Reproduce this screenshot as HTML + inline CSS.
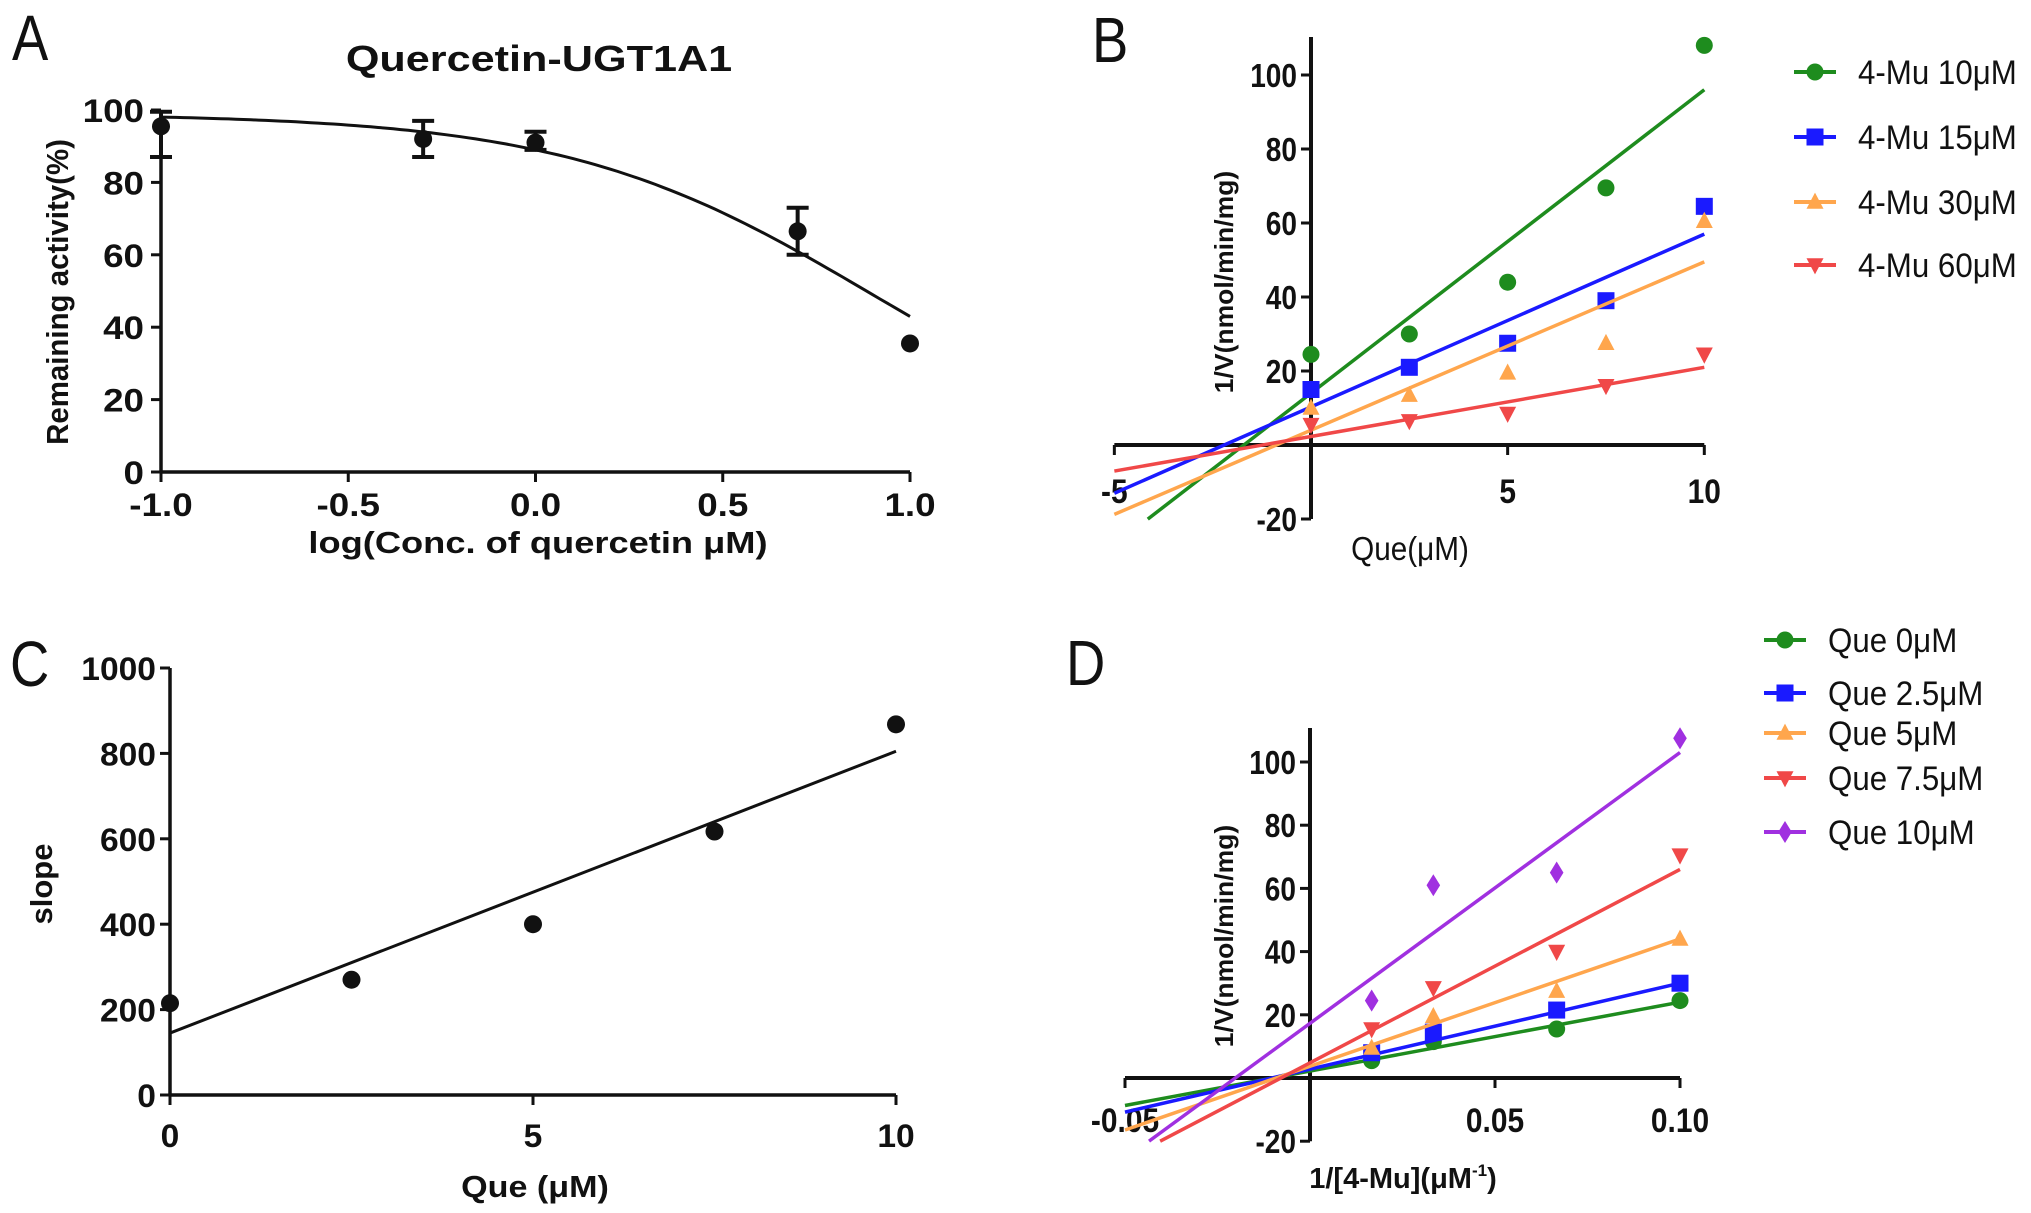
<!DOCTYPE html>
<html><head><meta charset="utf-8"><style>
html,body{margin:0;padding:0;background:#fff}
svg{display:block}
text{font-family:"Liberation Sans",Arial,sans-serif;fill:#111}
</style></head><body>
<svg id="fig" width="2031" height="1213" viewBox="0 0 2031 1213" xmlns="http://www.w3.org/2000/svg"></svg>
<script>
// ---- Panel A data ----
const aX = [-1.0, -0.3, 0.0, 0.7, 1.0];
const aY = [95.5, 92, 91, 66.5, 35.5];
const aErrLo = [87, 87, 89, 60, 35.5];
const aErrHi = [99.5, 97, 94, 73, 35.5];
const aFitTop = 99, aFitHill = 1.064, aFitLogIC50 = 0.892;
const aXTicks = [-1.0, -0.5, 0.0, 0.5, 1.0];
const aXTickLabels = ["-1.0", "-0.5", "0.0", "0.5", "1.0"];
const aYTicks = [0, 20, 40, 60, 80, 100];
// ---- Panel B data ----
const bX = [0, 2.5, 5, 7.5, 10];
const bNames = ["4-Mu 10μM", "4-Mu 15μM", "4-Mu 30μM", "4-Mu 60μM"];
const bS10 = [24.5, 30, 44, 69.5, 108];
const bS15 = [15, 21, 27.5, 39, 64.5];
const bS30 = [10, 13.5, 19.5, 27.5, 60.5];
const bS60 = [5.5, 6.5, 8.5, 16, 24.5];
const bSlopes = [8.2, 4.67, 4.55, 1.87];
const bIntercepts = [14, 10.3, 4, 2.3];
const bLineStart = [-4.15, -5, -5, -5];
const bYTicks = [-20, 20, 40, 60, 80, 100];
const bXTicks = [-5, 5, 10];
// ---- Panel C data ----
const cX = [0, 2.5, 5, 7.5, 10];
const cY = [215, 270, 400, 617, 868];
const cSlope = 66, cIntercept = 145;
const cYTicks = [0, 200, 400, 600, 800, 1000];
const cXTicks = [0, 5, 10];
// ---- Panel D data ----
const dX = [1/60, 1/30, 1/15, 0.1];
const dNames = ["Que 0μM", "Que 2.5μM", "Que 5μM", "Que 7.5μM", "Que 10μM"];
const dS0 = [5.5, 11.5, 15.5, 24.5];
const dS25 = [8, 14.5, 21.5, 30];
const dS5 = [9.5, 19.5, 27.5, 44];
const dS75 = [15.5, 28.5, 40, 70.5];
const dS10 = [24.5, 61, 65, 107.5];
const dSlopes = [218, 272, 403, 612, 857];
const dIntercepts = [2.2, 2.8, 3.7, 4.8, 17.3];
const dLineStart = [-0.05, -0.05, -0.05, -0.0405, -0.0435];
const dYTicks = [-20, 20, 40, 60, 80, 100];
const dXTicks = [-0.05, 0.05, 0.10];
const dXTickLabels = ["-0.05", "0.05", "0.10"];

const NS = "http://www.w3.org/2000/svg";
const svg = document.getElementById('fig');
function el(tag, attrs, parent) {
  const e = document.createElementNS(NS, tag);
  for (const k in attrs) e.setAttribute(k, attrs[k]);
  (parent || svg).appendChild(e);
  return e;
}
function txt(x, y, s, size, anchor, weight, sx, rot, parent) {
  const e = el('text', {'font-size': size, 'text-anchor': anchor, 'font-weight': weight,
    transform: 'translate(' + x + ',' + y + ')' + (rot ? ' rotate(' + rot + ')' : '') + ' scale(' + sx + ',1)'}, parent);
  e.textContent = s;
  return e;
}
const GREEN = '#1e8c1e', BLUE = '#1a1aff', ORANGE = '#ffa64d', RED = '#f04848', PURPLE = '#a030e0';
function marker(shape, cx, cy, r, color, parent) {
  let m;
  if (shape === 'circle') m = el('circle', {cx: cx, cy: cy, r: r, fill: color}, parent);
  else if (shape === 'square') m = el('rect', {x: cx - r, y: cy - r, width: 2 * r, height: 2 * r, fill: color}, parent);
  else if (shape === 'up') m = el('polygon', {points: (cx) + ',' + (cy - r * 1.1) + ' ' + (cx - r) + ',' + (cy + r * 0.8) + ' ' + (cx + r) + ',' + (cy + r * 0.8), fill: color}, parent);
  else if (shape === 'down') m = el('polygon', {points: (cx) + ',' + (cy + r * 1.1) + ' ' + (cx - r) + ',' + (cy - r * 0.8) + ' ' + (cx + r) + ',' + (cy - r * 0.8), fill: color}, parent);
  else m = el('polygon', {points: cx + ',' + (cy - r * 1.3) + ' ' + (cx + r * 0.8) + ',' + cy + ' ' + cx + ',' + (cy + r * 1.3) + ' ' + (cx - r * 0.8) + ',' + cy, fill: color}, parent);
  return m;
}

// ================= Panel A =================
(function () {
  const g = el('g', {});
  
  
  const X = v => 161 + (v + 1) / 2 * (910 - 161);
  const Y = v => 472 - v / 100 * (472 - 110);
  const lbl = txt(12, 60, 'A', 64, 'start', 'normal', 0.85, 0, g);
  
  
  const t = txt(539, 71, 'Quercetin-UGT1A1', 36, 'middle', 'bold', 1.2, 0, g);
  
  
  el('line', {x1: X(-1), y1: Y(0), x2: X(1), y2: Y(0), stroke: '#111', 'stroke-width': 3.5}, g);
  el('line', {x1: X(-1), y1: Y(0), x2: X(-1), y2: Y(100), stroke: '#111', 'stroke-width': 3.5}, g);
  aXTicks.forEach((v, i) => {
    el('line', {x1: X(v), y1: Y(0), x2: X(v), y2: Y(0) + 10, stroke: '#111', 'stroke-width': 3}, g);
    const e = txt(X(v), 516, aXTickLabels[i], 32, 'middle', 'bold', 1.15, 0, g);
    
    
  });
  aYTicks.forEach(v => {
    el('line', {x1: X(-1) - 10, y1: Y(v), x2: X(-1), y2: Y(v), stroke: '#111', 'stroke-width': 3}, g);
    const e = txt(X(-1) - 17, Y(v) + 12, String(v), 32, 'end', 'bold', 1.15, 0, g);
    
    
  });
  const xt = txt(538, 553, 'log(Conc. of quercetin μM)', 31, 'middle', 'bold', 1.17, 0, g);
  
  
  const yt = txt(68, 292, 'Remaining activity(%)', 31, 'middle', 'bold', 0.95, -90, g);
  
  
  let d = '';
  for (let k = 0; k <= 100; k++) {
    const x = -1 + 2 * k / 100;
    const y = aFitTop / (1 + Math.pow(10, aFitHill * (x - aFitLogIC50)));
    d += (k ? 'L' : 'M') + X(x).toFixed(1) + ',' + Y(y).toFixed(1);
  }
  const fit = el('path', {d: d, fill: 'none', stroke: '#111', 'stroke-width': 3}, g);
  
  
  aX.forEach((v, i) => {
    if (aErrHi[i] !== aErrLo[i]) {
      el('line', {x1: X(v), y1: Y(aErrLo[i]), x2: X(v), y2: Y(aErrHi[i]), stroke: '#111', 'stroke-width': 4}, g);
      el('line', {x1: X(v) - 11, y1: Y(aErrLo[i]), x2: X(v) + 11, y2: Y(aErrLo[i]), stroke: '#111', 'stroke-width': 4}, g);
      el('line', {x1: X(v) - 11, y1: Y(aErrHi[i]), x2: X(v) + 11, y2: Y(aErrHi[i]), stroke: '#111', 'stroke-width': 4}, g);
    }
    const m = marker('circle', X(v), Y(aY[i]), 9, '#111', g);
    
    
  });
})();

// generic Lineweaver-type panel
function kineticPanel(cfg) {
  const g = el('g', {});
  
  
  const X = cfg.X, Y = cfg.Y;
  const lbl = txt(cfg.letterX, cfg.letterY, cfg.letter, 64, 'start', 'normal', 0.85, 0, g);
  
  
  el('line', {x1: X(cfg.xmin), y1: Y(0), x2: X(cfg.xmax), y2: Y(0), stroke: '#111', 'stroke-width': 4}, g);
  el('line', {x1: X(0), y1: cfg.axisTop, x2: X(0), y2: Y(-20), stroke: '#111', 'stroke-width': 4}, g);
  cfg.yTicks.forEach(v => {
    el('line', {x1: X(0) - 10, y1: Y(v), x2: X(0), y2: Y(v), stroke: '#111', 'stroke-width': 3}, g);
    const e = txt(X(0) - 14, Y(v) + 12, String(v), 33, 'end', 'bold', 0.85, 0, g);
    
    
  });
  cfg.xTicks.forEach((v, i) => {
    el('line', {x1: X(v), y1: Y(0), x2: X(v), y2: Y(0) + 10, stroke: '#111', 'stroke-width': 3}, g);
    const e = txt(X(v), cfg.xLabelY, cfg.xTickLabels[i], 34, 'middle', 'bold', 0.88, 0, g);
    
    
  });
  const yt = txt(1233, cfg.yTitleY, '1/V(nmol/min/mg)', 26, 'middle', 'bold', 1.02, -90, g);
  
  
  cfg.series.forEach((s, si) => {
    const x1 = cfg.lineStart[si], x2 = cfg.xLast;
    const ln = el('line', {x1: X(x1), y1: Y(cfg.intercepts[si] + cfg.slopes[si] * x1), x2: X(x2), y2: Y(cfg.intercepts[si] + cfg.slopes[si] * x2), stroke: cfg.colors[si], 'stroke-width': 3.5}, g);
    
    
    s.forEach((v, i) => {
      const m = marker(cfg.shapes[si], X(cfg.xs[i]), Y(v), 8.5, cfg.colors[si], g);
      
      
    });
    const ly = cfg.legendY[si];
    const lg = el('g', {}, g);
    
    
    el('line', {x1: cfg.legendX - 21, y1: ly, x2: cfg.legendX + 21, y2: ly, stroke: cfg.colors[si], 'stroke-width': 4}, lg);
    marker(cfg.shapes[si], cfg.legendX, ly, 8.5, cfg.colors[si], lg);
    txt(cfg.legendX + 43, ly + 12, cfg.names[si], 34, 'start', 'normal', 0.92, 0, lg);
  });
  return g;
}

// ================= Panel B =================
(function () {
  const X = v => 1311 + v * 39.33;
  const Y = v => 445 - v * 3.7;
  const g = kineticPanel({
    name: 'panel-b', letter: 'B', letterX: 1092, letterY: 62, X: X, Y: Y, xmin: -5, xmax: 10, axisTop: 37,
    yTicks: bYTicks, xTicks: bXTicks, xTickLabels: bXTicks.map(String), xLabelY: 503, yTitleY: 282,
    series: [bS10, bS15, bS30, bS60], xs: bX, slopes: bSlopes, intercepts: bIntercepts, lineStart: bLineStart, xLast: 10,
    colors: [GREEN, BLUE, ORANGE, RED], shapes: ['circle', 'square', 'up', 'down'], names: bNames,
    legendX: 1815, legendY: [72, 137, 202, 265]
  });
  const xt = txt(1410, 560, 'Que(μM)', 33, 'middle', 'normal', 0.9, 0, g);
  
  
})();

// ================= Panel C =================
(function () {
  const g = el('g', {});
  
  
  const X = v => 170 + v / 10 * (896 - 170);
  const Y = v => 1095 - v / 1000 * (1095 - 668);
  const lbl = txt(10, 686, 'C', 64, 'start', 'normal', 0.85, 0, g);
  
  
  el('line', {x1: X(0), y1: Y(0), x2: X(10), y2: Y(0), stroke: '#111', 'stroke-width': 3.5}, g);
  el('line', {x1: X(0), y1: Y(0), x2: X(0), y2: Y(1000), stroke: '#111', 'stroke-width': 3.5}, g);
  cYTicks.forEach(v => {
    el('line', {x1: X(0) - 10, y1: Y(v), x2: X(0), y2: Y(v), stroke: '#111', 'stroke-width': 3}, g);
    const e = txt(X(0) - 14, Y(v) + 12, String(v), 32, 'end', 'bold', 1.05, 0, g);
    
    
  });
  cXTicks.forEach(v => {
    el('line', {x1: X(v), y1: Y(0), x2: X(v), y2: Y(0) + 10, stroke: '#111', 'stroke-width': 3}, g);
    const e = txt(X(v), 1147, String(v), 32, 'middle', 'bold', 1.05, 0, g);
    
    
  });
  const xt = txt(535, 1197, 'Que (μM)', 31, 'middle', 'bold', 1.1, 0, g);
  
  
  const yt = txt(52, 884, 'slope', 31, 'middle', 'bold', 1.0, -90, g);
  
  
  const ln = el('line', {x1: X(0), y1: Y(cIntercept), x2: X(10), y2: Y(cIntercept + cSlope * 10), stroke: '#111', 'stroke-width': 3}, g);
  
  
  cX.forEach((v, i) => {
    const m = marker('circle', X(v), Y(cY[i]), 9, '#111', g);
    
    
  });
})();

// ================= Panel D =================
(function () {
  const X = v => 1310 + v * 3700;
  const Y = v => 1078 - v * 3.16;
  const g = kineticPanel({
    name: 'panel-d', letter: 'D', letterX: 1066, letterY: 685, X: X, Y: Y, xmin: -0.05, xmax: 0.10, axisTop: 728,
    yTicks: dYTicks, xTicks: dXTicks, xTickLabels: dXTickLabels, xLabelY: 1132, yTitleY: 936,
    series: [dS0, dS25, dS5, dS75, dS10], xs: dX, slopes: dSlopes, intercepts: dIntercepts, lineStart: dLineStart, xLast: 0.1,
    colors: [GREEN, BLUE, ORANGE, RED, PURPLE], shapes: ['circle', 'square', 'up', 'down', 'diamond'], names: dNames,
    legendX: 1785, legendY: [640, 693, 733, 778, 832]
  });
  const xt = el('text', {'font-size': 29, 'font-weight': 'bold', 'text-anchor': 'middle', transform: 'translate(1403,1188) scale(1.0,1)'}, g);
  
  
  xt.textContent = '1/[4-Mu](μM';
  const sup = el('tspan', {'font-size': 17, dy: -12}, xt);
  sup.textContent = '-1';
  const cl = el('tspan', {dy: 12}, xt);
  cl.textContent = ')';
})();
</script>
</body></html>
